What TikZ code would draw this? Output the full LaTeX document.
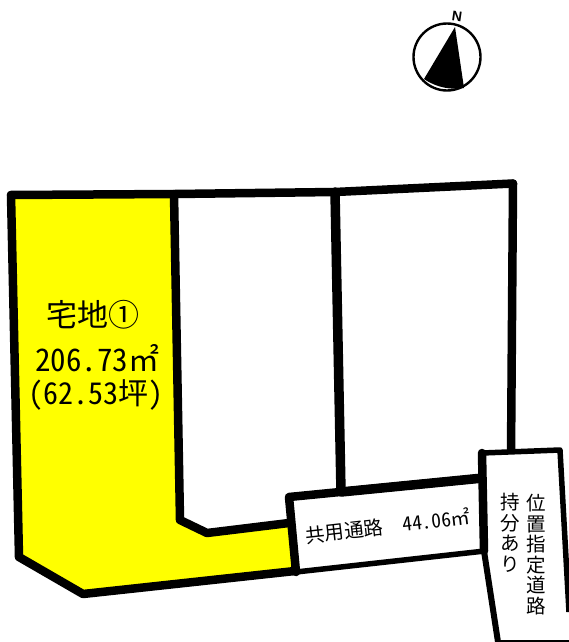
\documentclass[tikz,border=0pt]{standalone}
\usepackage{fontspec}
\setmainfont{Noto Sans CJK JP}[RawFeature=+hwid]
\setsansfont{Liberation Sans}
\definecolor{lotyellow}{RGB}{255,255,0}
\begin{document}
\begin{tikzpicture}[x=1pt,y=-1pt,
  wall/.style={draw=black,line width=8.5pt,line join=round,line cap=round},
  mid wall/.style={draw=black,line width=6pt,line join=round,line cap=butt},
  thin wall/.style={draw=black,line width=5.5pt,line join=round,line cap=butt},
  lbl/.style={inner sep=0pt,font=\fontsize{30}{30}\selectfont,text=black},
  small/.style={inner sep=0pt,font=\fontsize{19.5}{19.5}\selectfont,text=black},
  vsmall/.style={inner sep=0pt,font=\fontsize{19.5}{20.5}\selectfont,text=black,anchor=north,align=center}]
\useasboundingbox (0,0) rectangle (569,642);
\fill[white] (0,0) rectangle (569,642);
% yellow lot
\fill[lotyellow] (11,195) -- (175,194) -- (180,520) -- (207,533) -- (290,522) -- (295,570) -- (83,594) -- (19,557) -- cycle;
% boundaries
\draw[wall] (11,195) -- (175,194) -- (335,192) -- (513,183.5);
\draw[wall] (11,195) -- (19,557) -- (83,594) -- (295,571);
\draw[wall] (174,194) -- (180,520) -- (207,533) -- (289,523);
\draw[wall,line width=9.5pt] (335,192) -- (341,492);
\draw[wall] (513,183.5) -- (511,455);
% shared road
\fill[white] (289,497) -- (483,478) -- (485,551) -- (296,572) -- cycle;
\draw[wall] (296,572) -- (289,497) -- (483,478);
\draw[wall,line width=9.5pt] (341,492) -- (483,478);
\draw[thin wall] (296,572) -- (485,551);
% designated road
\fill[white] (482,453) -- (560,450) -- (571,642) -- (498,642) -- (485,551) -- cycle;
\draw[wall] (482,453) -- (484,551);
\draw[mid wall] (484,551) -- (498,642);
\draw[thin wall] (482,453) -- (560,450) -- (569,612);
\draw[black,line width=2pt] (497,641) -- (569,641);
% north mark
\fill[black] (455,27) -- (424,79) .. controls (437,88) and (452,90) .. (464,88) -- cycle;
\draw[black,line width=2.4pt] (447,57) circle (33.5);
\node[inner sep=0pt,font=\sffamily\bfseries\fontsize{14}{14}\selectfont,rotate=-8] (north) at (457,16) {N};
% texts
\node[lbl,font=\fontsize{31}{31}\selectfont] (lotname) at (93,315) {宅地①};
\node[lbl,font=\fontsize{31}{31}\selectfont] (lotarea) at (97,358) {206.73㎡};
\node[lbl] (lottsubo) at (96,395) {(62.53坪)};
\node[small,rotate=6.5] (roadlabel) at (388,526) {共用通路\hspace{1em}44.06㎡};
\node[vsmall] (road1) at (536,494) {位\\置\\指\\定\\道\\路};
\node[vsmall] (road2) at (510,493) {持\\分\\あ\\り};
\end{tikzpicture}
\end{document}
